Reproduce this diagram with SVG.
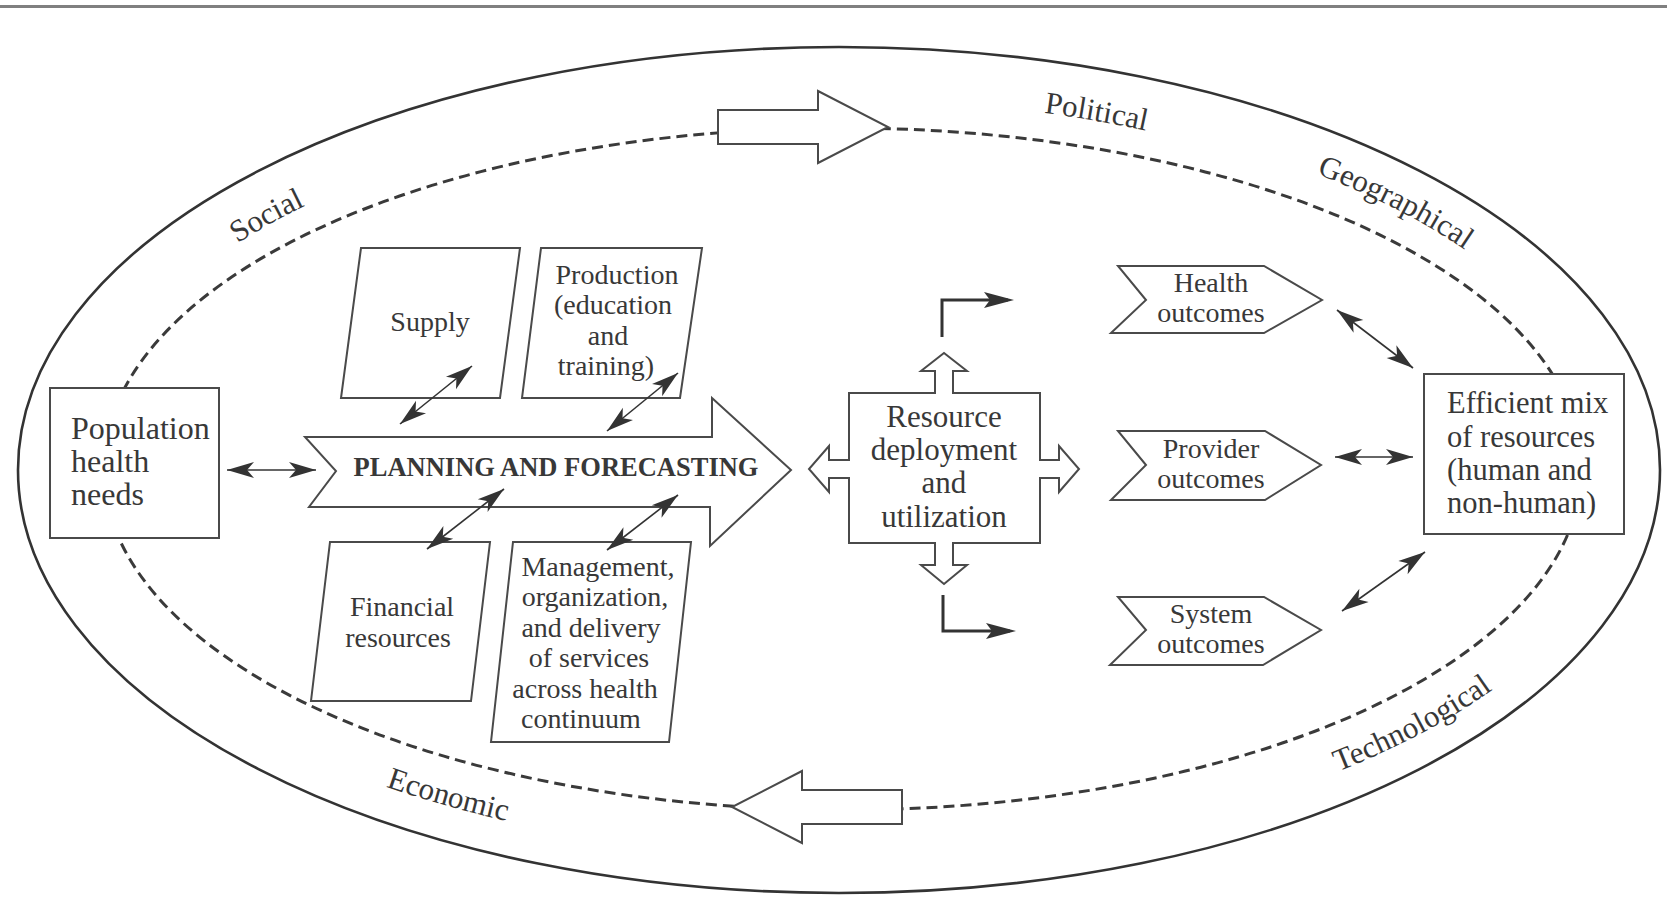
<svg xmlns="http://www.w3.org/2000/svg" width="1667" height="898" viewBox="0 0 1667 898">
<style>
.ln{fill:none;stroke:#333;stroke-width:2.6}
.dash{fill:none;stroke:#3a3a3a;stroke-width:3;stroke-dasharray:11 6}
.box{fill:#fff;stroke:#4a4a4a;stroke-width:2}
.t{font-family:"Liberation Serif","Times New Roman",serif;fill:#383838}
.big{font-size:31px}
.pop{font-size:32px}
.eff{font-size:30.5px}
.sm{font-size:28px;text-anchor:middle}
.lbl{font-size:31px;text-anchor:middle}
.bold{font-size:26.5px;font-weight:bold;text-anchor:middle}
.con{fill:none;stroke:#333;stroke-width:1.6}
.bent{fill:none;stroke:#333;stroke-width:3}
</style>
<defs>
<marker id="dh" markerUnits="userSpaceOnUse" viewBox="-30 -10 40 20" markerWidth="40" markerHeight="20" refX="0" refY="0" orient="auto-start-reverse">
<path d="M0,0 L-27,-8 L-20,0 L-27,8 Z" fill="#333"/>
</marker>
<marker id="bh" markerUnits="userSpaceOnUse" viewBox="-30 -10 40 20" markerWidth="40" markerHeight="20" refX="0" refY="0" orient="auto">
<path d="M6,0 L-24,-8 L-18,0 L-24,8 Z" fill="#333"/>
</marker>
<path id="pSocial" d="M173.4,291.5 A759.7,372.1 0 0 1 379.2,174.2"/>
<path id="pPolitical" d="M908.6,100.6 A757.4,370.9 0 0 1 1276.6,166.9"/>
<path id="pGeo" d="M1202.1,137.3 A770,377 0 0 1 1554.2,329.1"/>
<path id="pEco" d="M306.8,755.6 A790,387 0 0 0 590,837.1"/>
<path id="pTech" d="M1292,788.4 A792,387.8 0 0 0 1531.3,659.2"/>
</defs>
<rect x="0" y="0" width="1667" height="898" fill="#fff"/>
<line x1="0" y1="6.5" x2="1667" y2="6.5" stroke="#808080" stroke-width="3"/>

<g id="environment">
<ellipse class="ln" cx="839" cy="470" rx="821" ry="423"/>
<ellipse class="dash" cx="842.5" cy="469" rx="739" ry="341"/>
<text class="t lbl"><textPath href="#pSocial" startOffset="50%">Social</textPath></text>
<text class="t lbl"><textPath href="#pPolitical" startOffset="50%">Political</textPath></text>
<text class="t lbl"><textPath href="#pGeo" startOffset="50%">Geographical</textPath></text>
<text class="t lbl"><textPath href="#pEco" startOffset="50%">Economic</textPath></text>
<text class="t lbl"><textPath href="#pTech" startOffset="50%">Technological</textPath></text>
</g>

<g id="cycle-arrow-top"><path class="box" d="M718,110 H818 V91 L888,127 L818,163 V144 H718 Z"/></g>
<g id="cycle-arrow-bottom"><path class="box" d="M902,790 H802 V771 L732,807 L802,843 V824 H902 Z"/></g>

<g id="population">
<rect class="box" x="50" y="388" width="169" height="150"/>
<text class="t pop" x="71" y="439">Population</text>
<text class="t pop" x="71" y="472">health</text>
<text class="t pop" x="71" y="505">needs</text>
</g>

<g id="planning">
<path class="box" d="M305,437 H712 V398 L791,470 L710,546 V507 H309 L336,471 Z"/>
<text class="t bold" x="556" y="476">PLANNING AND FORECASTING</text>
</g>

<g id="supply">
<path class="box" d="M361,248 L520,248 L500,398 L341,398 Z"/>
<text class="t sm" x="430" y="331">Supply</text>
</g>

<g id="production">
<path class="box" d="M541,248 L702,248 L680,398 L522,398 Z"/>
<text class="t sm" x="617" y="284">Production</text>
<text class="t sm" x="613" y="314">(education</text>
<text class="t sm" x="608" y="345">and</text>
<text class="t sm" x="606" y="375">training)</text>
</g>

<g id="financial">
<path class="box" d="M330,542 L490,542 L471,701 L311,701 Z"/>
<text class="t sm" x="402" y="616">Financial</text>
<text class="t sm" x="398" y="647">resources</text>
</g>

<g id="management">
<path class="box" d="M513,542 L691,542 L669,742 L491,742 Z"/>
<text class="t sm" x="598" y="576">Management,</text>
<text class="t sm" x="595" y="606">organization,</text>
<text class="t sm" x="591" y="637">and delivery</text>
<text class="t sm" x="589" y="667">of services</text>
<text class="t sm" x="585" y="698">across health</text>
<text class="t sm" x="581" y="728">continuum</text>
</g>

<g id="resource">
<path class="box" d="M849,393 H935 V371 H921 L944,353 L967,371 H953 V393 H1040 V460 H1059 V446 L1079,469 L1059,492 V478 H1040 V543 H953 V565 H967 L944,584 L921,565 H935 V543 H849 V478 H829 V492 L809,469 L829,446 V460 H849 Z"/>
<text class="t big" x="944" y="427" text-anchor="middle">Resource</text>
<text class="t big" x="944" y="460" text-anchor="middle">deployment</text>
<text class="t big" x="944" y="493" text-anchor="middle">and</text>
<text class="t big" x="944" y="527" text-anchor="middle">utilization</text>
</g>

<g id="health-outcomes">
<path class="box" d="M1118,266 H1264 L1322,300 L1264,333 H1111 L1146,300 Z"/>
<text class="t sm" x="1211" y="292">Health</text>
<text class="t sm" x="1211" y="322">outcomes</text>
</g>

<g id="provider-outcomes">
<path class="box" d="M1118,431 H1265 L1321,465 L1265,500 H1111 L1146,465 Z"/>
<text class="t sm" x="1211" y="458">Provider</text>
<text class="t sm" x="1211" y="488">outcomes</text>
</g>

<g id="system-outcomes">
<path class="box" d="M1118,597 H1264 L1321,630 L1263,665 H1110 L1146,630 Z"/>
<text class="t sm" x="1211" y="623">System</text>
<text class="t sm" x="1211" y="653">outcomes</text>
</g>

<g id="efficient-mix">
<rect class="box" x="1424" y="374" width="200" height="160"/>
<text class="t eff" x="1447" y="413">Efficient mix</text>
<text class="t eff" x="1447" y="447">of resources</text>
<text class="t eff" x="1447" y="480">(human and</text>
<text class="t eff" x="1447" y="513">non-human)</text>
</g>

<g id="connectors">
<line class="con" x1="227" y1="470" x2="316" y2="470" marker-start="url(#dh)" marker-end="url(#dh)"/>
<line class="con" x1="400" y1="424" x2="472" y2="366" marker-start="url(#dh)" marker-end="url(#dh)"/>
<line class="con" x1="607" y1="431" x2="678" y2="373" marker-start="url(#dh)" marker-end="url(#dh)"/>
<line class="con" x1="427" y1="549" x2="504" y2="489" marker-start="url(#dh)" marker-end="url(#dh)"/>
<line class="con" x1="607" y1="550" x2="678" y2="495" marker-start="url(#dh)" marker-end="url(#dh)"/>
<path class="bent" d="M942,337 V300 H1008" marker-end="url(#bh)"/>
<path class="bent" d="M943,595 V631 H1010" marker-end="url(#bh)"/>
<line class="con" x1="1337" y1="310" x2="1413" y2="368" marker-start="url(#dh)" marker-end="url(#dh)"/>
<line class="con" x1="1335" y1="457" x2="1413" y2="457" marker-start="url(#dh)" marker-end="url(#dh)"/>
<line class="con" x1="1342" y1="611" x2="1425" y2="552" marker-start="url(#dh)" marker-end="url(#dh)"/>
</g>
</svg>
